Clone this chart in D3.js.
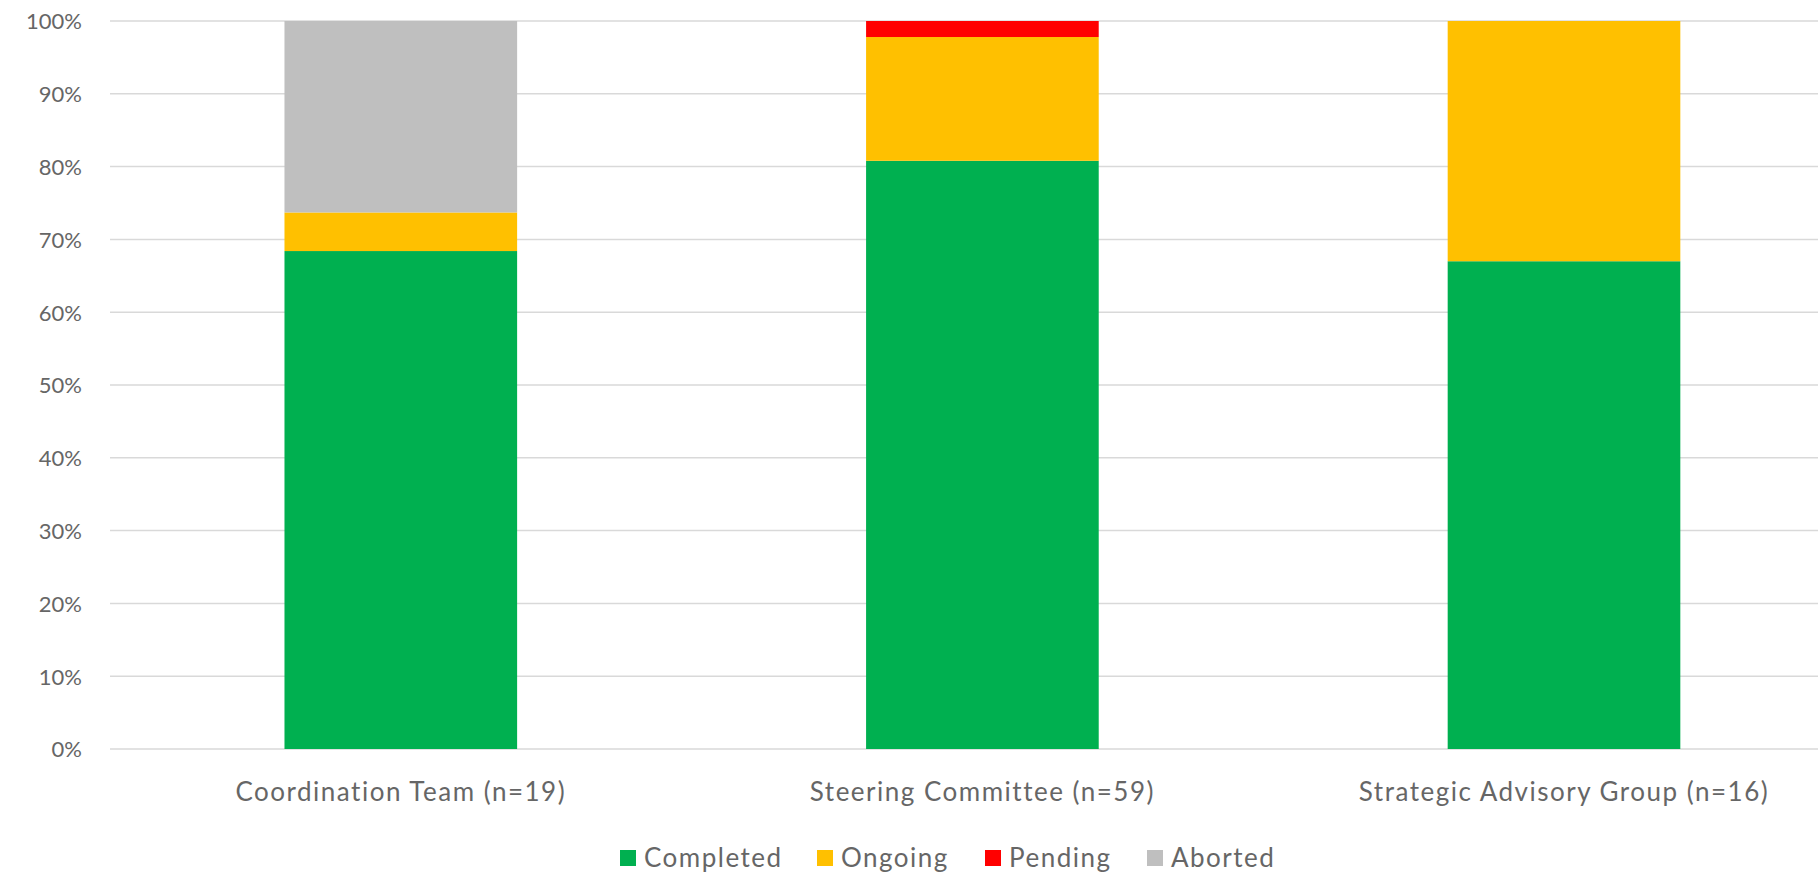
<!DOCTYPE html>
<html lang="en">
<head>
<meta charset="UTF-8">
<title>Status by group</title>
<script src="https://d3js.org/d3.v7.min.js"></script>
<style>
  body { margin: 0; background: #fff; font-family: Lato, "Open Sans", sans-serif; }
  svg { display: block; }
  .tick text { fill: #666666; }
</style>
</head>
<body>
<svg width="1818" height="872"></svg>
<script>
// data (percent of each group)
const groups = ["Coordination Team (n=19)", "Steering Committee (n=59)", "Strategic Advisory Group (n=16)"];
const statuses = ["Completed", "Ongoing", "Pending", "Aborted"];
const completed = [68.4, 80.8, 67.0];
const ongoing = [5.3, 17.0, 33.0];
const pending = [0, 2.2, 0];
const aborted = [26.3, 0, 0];
const colors = ["#00B050", "#FFC000", "#FF0000", "#BFBFBF"];
const yTicks = [0, 10, 20, 30, 40, 50, 60, 70, 80, 90, 100];

const rows = groups.map((g, i) => ({
  group: g, Completed: completed[i], Ongoing: ongoing[i], Pending: pending[i], Aborted: aborted[i]
}));

const svg = d3.select("svg");
const width = 1818;
const margin = { left: 110, top: 21, bottom: 749 };

const x = d3.scaleBand().domain(groups).range([margin.left, margin.left + 3 * 581.6]).paddingInner(0.6).paddingOuter(0.3);
const y = d3.scaleLinear().domain([0, 100]).range([margin.bottom, margin.top]);
const color = d3.scaleOrdinal().domain(statuses).range(colors);

// gridlines
svg.append("g")
  .selectAll("line")
  .data(yTicks)
  .join("line")
  .attr("x1", margin.left).attr("x2", width)
  .attr("y1", d => y(d)).attr("y2", d => y(d))
  .attr("stroke", "#D9D9D9")
  .attr("stroke-width", 1.5);

// y axis labels
const yAxis = svg.append("g")
  .attr("transform", "translate(82,0)")
  .call(d3.axisLeft(y).tickValues(yTicks).tickFormat(d => d + "%").tickSize(0).tickPadding(0));
yAxis.select(".domain").remove();
yAxis.selectAll("text").attr("font-size", 22).attr("font-family", "Lato, sans-serif").attr("dy", "0.36em");

// stacked bars
const series = d3.stack().keys(statuses)(rows);
svg.append("g")
  .selectAll("g")
  .data(series)
  .join("g")
  .attr("fill", d => color(d.key))
  .selectAll("rect")
  .data(d => d)
  .join("rect")
  .attr("x", d => x(d.data.group))
  .attr("width", x.bandwidth())
  .attr("y", d => y(d[1]))
  .attr("height", d => y(d[0]) - y(d[1]));

// x axis labels
const xAxis = svg.append("g")
  .attr("transform", `translate(0,${margin.bottom})`)
  .call(d3.axisBottom(x).tickSize(0).tickPadding(0));
xAxis.select(".domain").remove();
xAxis.selectAll("text")
  .attr("font-size", 26)
  .attr("font-family", "Lato, sans-serif")
  .attr("letter-spacing", 1.5)
  .attr("dy", "0").attr("y", 52);

// legend
const legendX = [620, 817, 985, 1147];
const legend = svg.append("g").attr("transform", "translate(0,850)");
const item = legend.selectAll("g")
  .data(statuses)
  .join("g")
  .attr("transform", (d, i) => `translate(${legendX[i]},0)`);
item.append("rect").attr("width", 16).attr("height", 16).attr("fill", d => color(d));
item.append("text")
  .attr("x", 24).attr("y", 17)
  .attr("font-size", 26)
  .attr("letter-spacing", 1.5)
  .attr("fill", "#666666")
  .text(d => d);
</script>
</body>
</html>
